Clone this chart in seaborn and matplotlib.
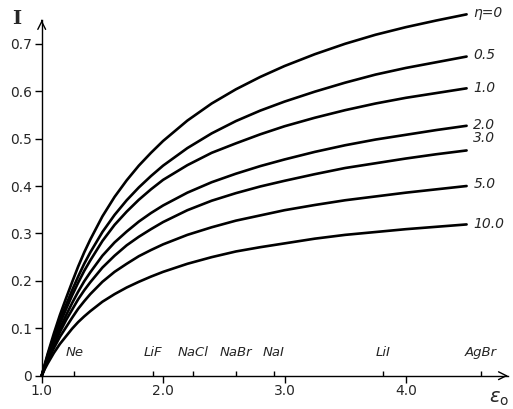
import pandas as pd
import matplotlib
matplotlib.use("Agg")
import matplotlib.pyplot as plt
import seaborn as sns

# dielectric constant grid (x axis)
eps = [1.0, 1.025, 1.05, 1.075, 1.1, 1.15, 1.2, 1.25, 1.3, 1.35, 1.4, 1.5, 1.6, 1.7,
       1.8, 1.9, 2.0, 2.2, 2.4, 2.6, 2.8, 3.0, 3.25, 3.5, 3.75, 4.0, 4.25, 4.5]

# I values, one list per eta
I_eta0 = [0, 0.024, 0.047, 0.068, 0.089, 0.128, 0.163, 0.197, 0.230, 0.260, 0.287, 0.336,
          0.377, 0.412, 0.443, 0.470, 0.495, 0.538, 0.574, 0.604, 0.630, 0.653, 0.678,
          0.700, 0.719, 0.735, 0.749, 0.762]
I_eta05 = [0, 0.022, 0.044, 0.063, 0.082, 0.118, 0.149, 0.180, 0.209, 0.236, 0.260, 0.303,
           0.339, 0.370, 0.397, 0.421, 0.443, 0.480, 0.511, 0.537, 0.559, 0.578, 0.599,
           0.618, 0.635, 0.649, 0.661, 0.673]
I_eta1 = [0, 0.021, 0.041, 0.059, 0.077, 0.110, 0.140, 0.169, 0.196, 0.221, 0.243, 0.284,
          0.318, 0.346, 0.371, 0.393, 0.413, 0.444, 0.470, 0.490, 0.509, 0.526, 0.544,
          0.560, 0.574, 0.586, 0.596, 0.606]
I_eta2 = [0, 0.019, 0.038, 0.054, 0.070, 0.100, 0.127, 0.153, 0.177, 0.199, 0.218, 0.253,
          0.281, 0.304, 0.325, 0.343, 0.359, 0.386, 0.408, 0.426, 0.442, 0.456, 0.472,
          0.486, 0.498, 0.508, 0.518, 0.527]
I_eta3 = [0, 0.018, 0.035, 0.050, 0.065, 0.092, 0.117, 0.139, 0.161, 0.180, 0.197, 0.228,
          0.253, 0.275, 0.293, 0.309, 0.324, 0.349, 0.369, 0.385, 0.399, 0.411, 0.425,
          0.438, 0.448, 0.458, 0.467, 0.475]
I_eta5 = [0, 0.016, 0.031, 0.045, 0.058, 0.082, 0.102, 0.122, 0.141, 0.157, 0.172, 0.198,
          0.219, 0.236, 0.252, 0.265, 0.277, 0.297, 0.313, 0.327, 0.338, 0.349, 0.360,
          0.370, 0.378, 0.386, 0.393, 0.400]
I_eta10 = [0, 0.014, 0.026, 0.037, 0.048, 0.067, 0.083, 0.099, 0.113, 0.125, 0.136, 0.156,
           0.172, 0.186, 0.198, 0.209, 0.219, 0.236, 0.250, 0.262, 0.271, 0.279, 0.289,
           0.297, 0.303, 0.309, 0.314, 0.319]

eta_labels = ["\u03b7=0", "0.5", "1.0", "2.0", "3.0", "5.0", "10.0"]
series = [I_eta0, I_eta05, I_eta1, I_eta2, I_eta3, I_eta5, I_eta10]

# materials marked on the x axis
materials = ["Ne", "LiF", "NaCl", "NaBr", "NaI", "LiI", "AgBr"]
mat_eps = [1.27, 1.92, 2.25, 2.60, 2.91, 3.81, 4.62]

rows = []
for lab, vals in zip(eta_labels, series):
    for e, v in zip(eps, vals):
        rows.append({"eps": e, "I": v, "eta": lab})
df = pd.DataFrame(rows)

sns.set_style("white")
plt.rcParams['font.family'] = ['DejaVu Sans']

fig = plt.figure(figsize=(5.13, 4.09), dpi=100)
ax = fig.add_axes([0.0813, 0.0814, 0.990 - 0.0813, 0.951 - 0.0814])

sns.lineplot(data=df, x="eps", y="I", hue="eta", palette=["black"] * 7,
             linewidth=1.9, legend=False, ax=ax)
for ln in ax.lines:
    ln.set_clip_on(False)
    ln.set_solid_joinstyle("round")

ax.set_xlim(1.0, 4.84)
ax.set_ylim(0, 0.75)
for s in ["top", "right"]:
    ax.spines[s].set_visible(False)
for s in ["left", "bottom"]:
    ax.spines[s].set_linewidth(1.0)
    ax.spines[s].set_color("black")

# arrow heads on the axes
ax.annotate("", xy=(1.0, 0), xytext=(0.99, 0), xycoords="axes fraction",
            arrowprops=dict(arrowstyle="->", color="black", lw=1.0, mutation_scale=14))
ax.annotate("", xy=(0, 1.0), xytext=(0, 0.99), xycoords="axes fraction",
            arrowprops=dict(arrowstyle="->", color="black", lw=1.0, mutation_scale=14))

ax.set_xticks([1.0, 2.0, 3.0, 4.0])
ax.set_xticklabels(["1.0", "2.0", "3.0", "4.0"])
ax.set_yticks([0, 0.1, 0.2, 0.3, 0.4, 0.5, 0.6, 0.7])
ax.set_yticklabels(["0", "0.1", "0.2", "0.3", "0.4", "0.5", "0.6", "0.7"])
ax.tick_params(axis="both", direction="out", length=5, width=1.0, pad=2,
               labelsize=10, color="black", bottom=True, left=True)
ax.tick_params(axis="x", pad=1)
ax.set_xlabel("")
ax.set_ylabel("")

# material ticks and labels
ax.vlines(mat_eps, 0, 0.01, color="black", lw=1.0)
for m, e in zip(materials, mat_eps):
    ax.text(e, 0.035, m, ha="center", va="bottom", style="italic", fontsize=9.5)

# curve labels at the right ends
label_offsets = [0.003, 0.003, 0.0, 0.002, 0.026, 0.005, 0.0]
for lab, vals, off in zip(eta_labels, series, label_offsets):
    ax.text(4.555, vals[-1] + off, lab, ha="left", va="center", style="italic", fontsize=10)

fig.text(17 / 513, 1 - 19 / 409, "I", family="DejaVu Serif", fontweight="bold",
         fontsize=14, ha="center", va="center")
fig.text(499 / 513, 1 - 398 / 409, r"$\epsilon_{\rm o}$", fontsize=14,
         ha="center", va="center")

fig.savefig("out.png", dpi=100)
